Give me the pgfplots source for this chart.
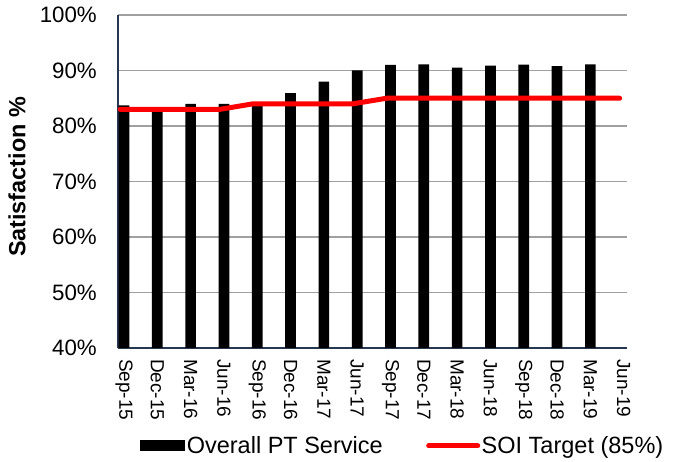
\documentclass[border=0pt]{standalone}
\usepackage{fontspec}
\setmainfont{Liberation Sans}
\usepackage{pgfplots}
\pgfplotsset{compat=1.18}
\definecolor{axiscol}{RGB}{38,56,80}
\definecolor{gridcol}{RGB}{160,160,160}
\definecolor{soired}{RGB}{255,0,0}
\begin{document}
\begin{tikzpicture}
\useasboundingbox (0,0) rectangle (675pt,462pt);
\begin{axis}[
  at={(118pt,114pt)}, anchor=south west,
  width=509pt, height=333pt, scale only axis,
  xmin=-0.06, xmax=15.22, ymin=40, ymax=100,
  axis x line*=bottom, axis y line*=left,
  axis line style={draw=axiscol, line width=1.3pt},
  ymajorgrids, grid style={draw=gridcol, line width=1.2pt},
  major tick length=0pt,
  xtick={0.12,1.12,2.12,3.12,4.12,5.12,6.12,7.12,8.12,9.12,10.12,11.12,12.12,13.12,14.12,15.12},
  xticklabels={Sep-15,Dec-15,Mar-16,Jun-16,Sep-16,Dec-16,Mar-17,Jun-17,Sep-17,Dec-17,Mar-18,Jun-18,Sep-18,Dec-18,Mar-19,Jun-19},
  xticklabel style={rotate=-90, anchor=west, inner sep=0pt, xshift=11pt, font=\fontsize{19}{20}\selectfont},
  ytick={40,50,60,70,80,90,100},
  yticklabels={40\%,50\%,60\%,70\%,80\%,90\%,100\%},
  yticklabel style={anchor=east, inner sep=0pt, xshift=-21pt, font=\fontsize{22.3}{24}\selectfont},
  ylabel={\bfseries Satisfaction \%},
  ylabel style={at={(axis description cs:-0.1984,0.5135)}, anchor=center, font=\fontsize{23.4}{25}\selectfont},
  legend style={draw=none, fill=none, at={(axis description cs:0.559,-0.294)}, anchor=center,
    legend columns=2, font=\fontsize{23.5}{25}\selectfont,
    nodes={inner sep=1.5pt},
    /tikz/every even column/.append style={column sep=42pt}},
  legend cell align=left,
]
\addplot[ybar, bar width=0.32, bar shift=0pt, fill=black, draw=none,
  legend image code/.code={\fill[black] (0pt,-5.5pt) rectangle (45pt,5.5pt);}]
  coordinates {
  (0.12,83.7) (1.12,83.0) (2.12,84.0) (3.12,84.0) (4.12,83.8) (5.12,85.9)
  (6.12,88.0) (7.12,90.0) (8.12,91.0) (9.12,91.1) (10.12,90.5) (11.12,90.9)
  (12.12,91.05) (13.12,90.8) (14.12,91.1)
  };
\addlegendentry{Overall PT Service}
\addplot[soired, line width=5pt, line cap=round, line join=round, mark=none,
  legend image code/.code={\draw[soired, line width=5pt] (0pt,0pt) -- (49pt,0pt);}]
  coordinates {
  (0,83) (1,83) (2,83) (3,83) (4,84) (5,84) (6,84) (7,84) (8,85) (9,85)
  (10,85) (11,85) (12,85) (13,85) (14,85) (15,85)
  };
\addlegendentry{SOI Target (85\%)}
\end{axis}
\end{tikzpicture}
\end{document}
